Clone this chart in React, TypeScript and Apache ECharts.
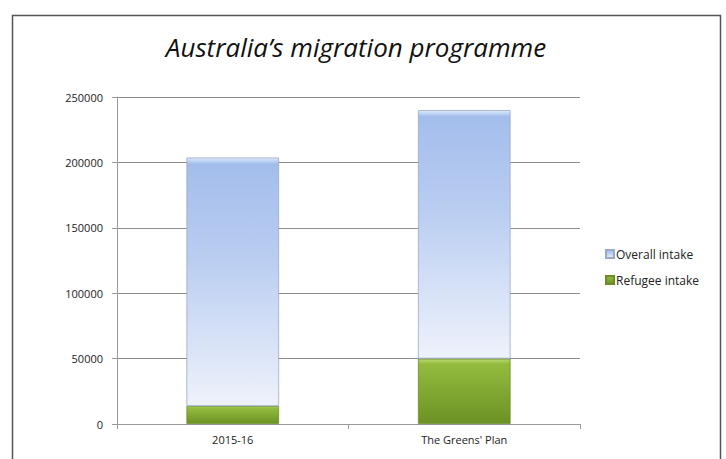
import React, { useEffect, useRef } from "react";
import * as echarts from "echarts";

const categories = ["2015-16", "The Greens' Plan"];
const refugeeIntake = [13750, 50000];
const overallIntake = [190000, 190000];
const seriesNames = ["Overall intake", "Refugee intake"];
const titleText = "Australia\u2019s migration programme";

export default function App() {
  const ref = useRef<HTMLDivElement>(null);
  useEffect(() => {
    document.body.style.margin = "0";
    const chart = echarts.init(ref.current!, null, { renderer: "svg" });
    const font = "'Open Sans', 'Noto Sans', sans-serif";
    chart.setOption({
      animation: false,
      backgroundColor: "#ffffff",
      title: {
        text: titleText,
        left: 351,
        textAlign: "center",
        top: 29,
        textStyle: { fontFamily: font, fontStyle: "italic", fontWeight: "normal", fontSize: 26, color: "#111" },
      },
      graphic: [
        {
          type: "rect",
          shape: { x: 12.5, y: 15.5, width: 708, height: 470 },
          style: { fill: "none", stroke: "#555", lineWidth: 1.5 },
          silent: true,
        },
      ],
      legend: {
        orient: "vertical",
        left: 600,
        top: 243,
        itemWidth: 8,
        itemHeight: 8,
        itemGap: 14,
        icon: "rect",
        data: seriesNames,
        textStyle: { fontFamily: font, fontSize: 12, color: "#222", padding: [0, 0, 0, -3] },
      },
      grid: { left: 117, right: 146, top: 97, bottom: 35 },
      xAxis: {
        type: "category",
        data: categories,
        axisLine: { lineStyle: { color: "#999" } },
        axisTick: { show: true, length: 5, lineStyle: { color: "#999" } },
        axisLabel: { fontFamily: font, fontSize: 11, color: "#222", margin: 10 },
      },
      yAxis: {
        type: "value",
        min: 0,
        max: 250000,
        interval: 50000,
        axisLine: { show: true, lineStyle: { color: "#999" } },
        axisTick: { show: true, inside: false, length: 5, lineStyle: { color: "#999" } },
        axisLabel: { fontFamily: font, fontSize: 11, color: "#222", margin: 14, formatter: (v: number) => String(v) },
        splitLine: { lineStyle: { color: "#8c8c8c" } },
      },
      series: [
        {
          name: "Refugee intake",
          type: "bar",
          stack: "total",
          barWidth: "40%",
          data: refugeeIntake,
          itemStyle: {
            color: new echarts.graphic.LinearGradient(0, 0, 0, 1, [
              { offset: 0, color: "#b8d870" },
              { offset: 0.08, color: "#93bc3e" },
              { offset: 1, color: "#6c9124" },
            ]),
            borderColor: "#6c8c2a",
            borderWidth: 0.8,
          },
        },
        {
          name: "Overall intake",
          type: "bar",
          stack: "total",
          barWidth: "40%",
          data: overallIntake,
          itemStyle: {
            color: new echarts.graphic.LinearGradient(0, 0, 0, 1, [
              { offset: 0, color: "#dcebfb" },
              { offset: 0.025, color: "#a3bdeb" },
              { offset: 0.4, color: "#b9cdf1" },
              { offset: 1, color: "#eef2fb" },
            ]),
            borderColor: "#9aa9c4",
            borderWidth: 0.8,
          },
        },
      ],
    });
    return () => chart.dispose();
  }, []);
  return <div ref={ref} style={{ width: 726, height: 459 }} />;
}
